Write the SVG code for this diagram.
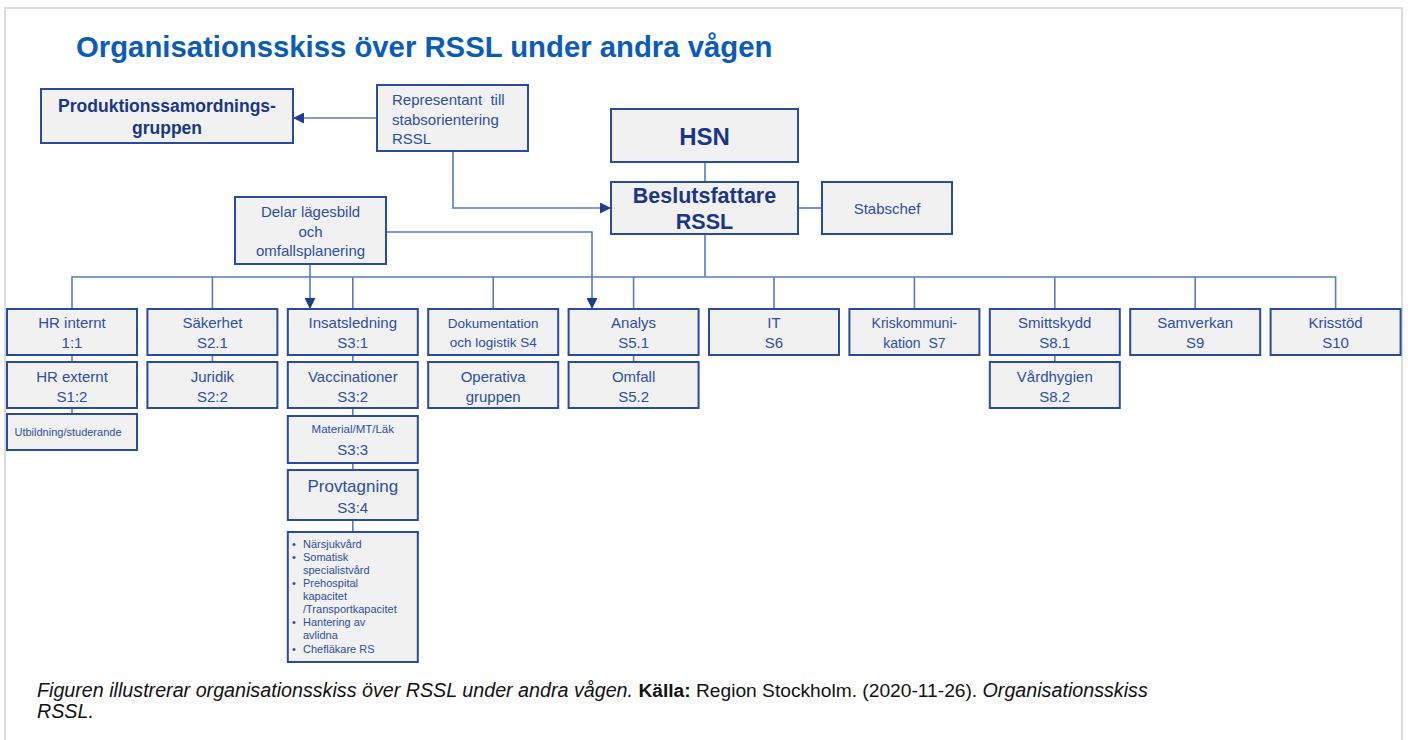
<svg xmlns="http://www.w3.org/2000/svg" width="1408" height="740" viewBox="0 0 1408 740">
<defs>
<style>
.box{fill:#f1f1f1;stroke:#2a4b9e;stroke-width:2}
.con{fill:none;stroke:#5a7bc0;stroke-width:1.6}
.t{font-family:"Liberation Sans",Arial,sans-serif;fill:#2f4f9f;text-anchor:middle}
.b{font-family:"Liberation Sans",Arial,sans-serif;fill:#1c3686;font-weight:bold;text-anchor:middle}
.l{font-size:15px}
.cap{font-family:"Liberation Sans",Arial,sans-serif;fill:#111;font-size:19.2px}
.it{font-style:italic;font-size:19.7px}
</style>
<marker id="ah" viewBox="0 0 10 10" refX="10" refY="5" markerWidth="11" markerHeight="11" markerUnits="userSpaceOnUse" orient="auto">
<path d="M0,0 L10,5 L0,10 z" fill="#1f3d8f"/>
</marker>
</defs>
<rect x="0" y="0" width="1408" height="740" fill="#fff"/>
<path d="M5,740 V8 H1402 V740" fill="none" stroke="#dcdcdc" stroke-width="2"/>
<text x="76" y="57" font-family="Liberation Sans,Arial,sans-serif" font-weight="bold" font-size="29.3" fill="#0b5cb7">Organisationsskiss över RSSL under andra vågen</text>

<g id="connectors">
<path class="con" d="M377,118 H293" marker-end="url(#ah)"/>
<path class="con" d="M453,151 V208 H611" marker-end="url(#ah)"/>
<path class="con" d="M705,162 V182"/>
<path class="con" d="M798,208 H822"/>
<path class="con" d="M705,234 V277"/>
<path class="con" d="M72,309 V277 H1335.6 V309"/>
<path class="con" d="M212.4,277 V309 M352.8,277 V309 M493.2,277 V309 M633.6,277 V309 M774,277 V309 M914.4,277 V309 M1054.8,277 V309 M1195.2,277 V309"/>
<path class="con" d="M310,264 V309" marker-end="url(#ah)"/>
<path class="con" d="M386,232 H592 V309" marker-end="url(#ah)"/>
<path class="con" d="M72,355 V362 M72,408 V414 M212.4,355 V362 M352.8,355 V362 M352.8,408 V416 M352.8,463 V470 M352.8,520 V532 M633.6,355 V362 M1054.8,355 V362"/>
</g>

<g id="produktionssamordningsgruppen"><rect class="box" x="41" y="89" width="252" height="54"/><text class="b" font-size="17.5" x="167" y="112">Produktionssamordnings-</text><text class="b" font-size="17.5" x="167" y="134">gruppen</text></g>
<g id="representant"><rect class="box" x="377" y="85" width="151" height="66"/><text class="t l" style="text-anchor:start" x="392" y="105" xml:space="preserve">Representant  till</text><text class="t l" style="text-anchor:start" x="392" y="125">stabsorientering</text><text class="t l" style="text-anchor:start" x="392" y="144">RSSL</text></g>
<g id="hsn"><rect class="box" x="611" y="109" width="187" height="53"/><text class="b" font-size="24" x="704.5" y="145">HSN</text></g>
<g id="beslutsfattare"><rect class="box" x="611" y="182" width="187" height="52"/><text class="b" font-size="21.5" x="704.5" y="203">Beslutsfattare</text><text class="b" font-size="21.5" x="704.5" y="229">RSSL</text></g>
<g id="stabschef"><rect class="box" x="822" y="182" width="130" height="52"/><text class="t l" x="887" y="214">Stabschef</text></g>
<g id="delar"><rect class="box" x="235" y="197" width="151" height="67"/><text class="t l" x="310.5" y="217">Delar lägesbild</text><text class="t l" x="310.5" y="237">och</text><text class="t l" x="310.5" y="256">omfallsplanering</text></g>

<g id="hr-internt"><rect class="box" x="7" y="309" width="130" height="46"/><text class="t l" x="72" y="328">HR internt</text><text class="t l" x="72" y="348">1:1</text></g>
<g id="sakerhet"><rect class="box" x="147.4" y="309" width="130" height="46"/><text class="t l" x="212.4" y="328">Säkerhet</text><text class="t l" x="212.4" y="348">S2.1</text></g>
<g id="insatsledning"><rect class="box" x="287.8" y="309" width="130" height="46"/><text class="t l" x="352.8" y="328">Insatsledning</text><text class="t l" x="352.8" y="348">S3:1</text></g>
<g id="dokumentation"><rect class="box" x="428.2" y="309" width="130" height="46"/><text class="t" font-size="13.5" x="493.2" y="328">Dokumentation</text><text class="t" font-size="13.5" x="493.2" y="347">och logistik S4</text></g>
<g id="analys"><rect class="box" x="568.6" y="309" width="130" height="46"/><text class="t l" x="633.6" y="328">Analys</text><text class="t l" x="633.6" y="348">S5.1</text></g>
<g id="it"><rect class="box" x="709" y="309" width="130" height="46"/><text class="t l" x="774" y="328">IT</text><text class="t l" x="774" y="348">S6</text></g>
<g id="kriskommunikation"><rect class="box" x="849.4" y="309" width="130" height="46"/><text class="t" font-size="14" x="914.4" y="328">Kriskommuni-</text><text class="t" font-size="14" x="914.4" y="348" xml:space="preserve">kation  S7</text></g>
<g id="smittskydd"><rect class="box" x="989.8" y="309" width="130" height="46"/><text class="t l" x="1054.8" y="328">Smittskydd</text><text class="t l" x="1054.8" y="348">S8.1</text></g>
<g id="samverkan"><rect class="box" x="1130.2" y="309" width="130" height="46"/><text class="t l" x="1195.2" y="328">Samverkan</text><text class="t l" x="1195.2" y="348">S9</text></g>
<g id="krisstod"><rect class="box" x="1270.6" y="309" width="130" height="46"/><text class="t l" x="1335.6" y="328">Krisstöd</text><text class="t l" x="1335.6" y="348">S10</text></g>

<g id="hr-externt"><rect class="box" x="7" y="362" width="130" height="46"/><text class="t l" x="72" y="382">HR externt</text><text class="t l" x="72" y="402">S1:2</text></g>
<g id="juridik"><rect class="box" x="147.4" y="362" width="130" height="46"/><text class="t l" x="212.4" y="382">Juridik</text><text class="t l" x="212.4" y="402">S2:2</text></g>
<g id="vaccinationer"><rect class="box" x="287.8" y="362" width="130" height="46"/><text class="t l" x="352.8" y="382">Vaccinationer</text><text class="t l" x="352.8" y="402">S3:2</text></g>
<g id="operativa"><rect class="box" x="428.2" y="362" width="130" height="46"/><text class="t l" x="493.2" y="382">Operativa</text><text class="t l" x="493.2" y="402">gruppen</text></g>
<g id="omfall"><rect class="box" x="568.6" y="362" width="130" height="46"/><text class="t l" x="633.6" y="382">Omfall</text><text class="t l" x="633.6" y="402">S5.2</text></g>
<g id="vardhygien"><rect class="box" x="989.8" y="362" width="130" height="46"/><text class="t l" x="1054.8" y="382">Vårdhygien</text><text class="t l" x="1054.8" y="402">S8.2</text></g>

<g id="utbildning"><rect class="box" x="7" y="414" width="130" height="36"/><text class="t" font-size="11" x="68" y="436">Utbildning/studerande</text></g>
<g id="material"><rect class="box" x="287.8" y="416" width="130" height="47"/><text class="t" font-size="11.5" x="352.8" y="433">Material/MT/Läk</text><text class="t l" x="352.8" y="455">S3:3</text></g>
<g id="provtagning"><rect class="box" x="287.8" y="470" width="130" height="50"/><text class="t" font-size="17" x="352.8" y="492">Provtagning</text><text class="t l" x="352.8" y="513">S3:4</text></g>
<g id="bullets"><rect class="box" x="287.8" y="532" width="130" height="130"/>
<g class="t" font-size="11" style="text-anchor:start">
<text x="292" y="548">•</text><text x="303" y="548">Närsjukvård</text>
<text x="292" y="561">•</text><text x="303" y="561">Somatisk</text>
<text x="303" y="574">specialistvård</text>
<text x="292" y="587">•</text><text x="303" y="587">Prehospital</text>
<text x="303" y="600">kapacitet</text>
<text x="303" y="613">/Transportkapacitet</text>
<text x="292" y="626">•</text><text x="303" y="626">Hantering av</text>
<text x="303" y="639">avlidna</text>
<text x="292" y="653">•</text><text x="303" y="653">Chefläkare RS</text>
</g></g>

<text class="cap" x="37" y="697"><tspan class="it">Figuren illustrerar organisationsskiss över RSSL under andra vågen.</tspan> <tspan font-weight="bold">Källa:</tspan> Region Stockholm. (2020-11-26). <tspan class="it">Organisationsskiss</tspan></text>
<text class="cap it" x="37" y="718">RSSL.</text>
</svg>
